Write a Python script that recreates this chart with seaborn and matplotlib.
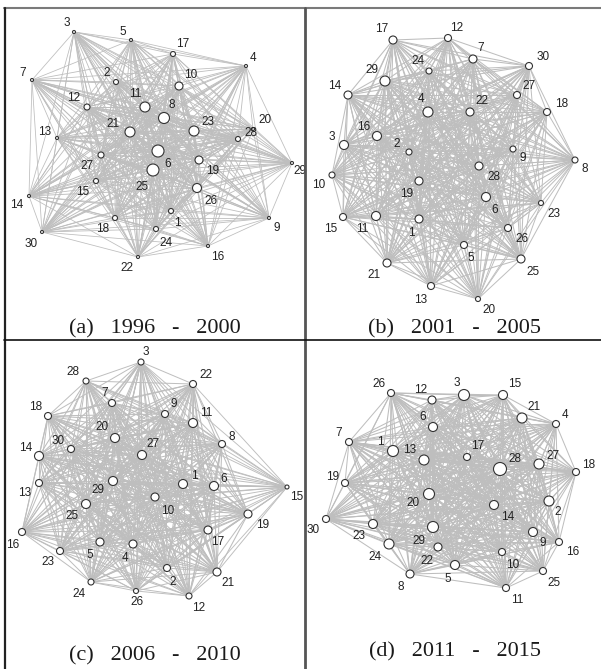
import numpy as np
import pandas as pd
import matplotlib
matplotlib.use('Agg')
import matplotlib.pyplot as plt
import seaborn as sb
from matplotlib.collections import LineCollection
from itertools import combinations

sb.set_style('white')
plt.rcParams['font.family'] = ['Liberation Sans', 'DejaVu Sans']

# Network layouts (x, y in page pixels), w = node weight
# (a) 1996 - 2000
nodes_a = [3, 5, 17, 4, 7, 2, 10, 11, 12, 8, 21, 23, 20, 28, 13,
           6, 29, 27, 19, 25, 15, 26, 14, 1, 18, 9, 24, 30, 16, 22]
x_a = [74, 131, 173, 246, 32, 116, 179, 145, 87, 164, 130, 194, 253, 238, 57,
       158, 292, 101, 199, 153, 96, 197, 29, 171, 115, 269, 156, 42, 208, 138]
y_a = [32, 40, 54, 66, 80, 82, 86, 107, 107, 118, 132, 131, 129, 139, 138,
       151, 163, 155, 160, 170, 181, 188, 196, 211, 218, 218, 229, 232, 246, 257]
w_a = [1.5, 1.5, 2.5, 1.5, 1.5, 2.5, 4, 5, 3, 5.5, 5, 5, 1.5, 2.5, 1.5,
       6, 1.5, 3, 4, 6, 2.5, 4.5, 1.5, 2.5, 2.5, 1.5, 2.5, 1.5, 1.5, 1.5]
off_a = [(-7, -9), (-8, -8), (10, -10), (7, -8), (-9, -7), (-9, -9), (12, -11),
         (-10, -13), (-13, -9), (8, -13), (-17, -8), (14, -9), (12, -9), (13, -6),
         (-12, -6), (10, 13), (8, 8), (-14, 11), (14, 11), (-11, 17), (-13, 11),
         (14, 13), (-12, 9), (6, 12), (-12, 11), (8, 10), (10, 14), (-11, 12),
         (10, 11), (-11, 11)]

# (b) 2001 - 2005
nodes_b = [17, 12, 7, 30, 24, 29, 14, 27, 4, 22, 18, 16, 3, 2, 9,
           8, 28, 10, 19, 6, 23, 15, 11, 1, 26, 5, 25, 21, 13, 20]
x_b = [393, 448, 473, 529, 429, 385, 348, 517, 428, 470, 547, 377, 344, 409, 513,
       575, 479, 332, 419, 486, 541, 343, 376, 419, 508, 464, 521, 387, 431, 478]
y_b = [40, 38, 59, 66, 71, 81, 95, 95, 112, 112, 112, 136, 145, 152, 149,
       160, 166, 175, 181, 197, 203, 217, 216, 219, 228, 245, 259, 263, 286, 299]
w_b = [4, 3.5, 4, 3.5, 3, 5, 4, 3.5, 5, 4, 3.5, 4.5, 4.5, 3, 3,
       3, 4, 3, 4, 4.5, 2.5, 3.5, 4.5, 4, 3.5, 3.5, 4, 4, 3.5, 2.5]
off_b = [(-11, -11), (9, -10), (8, -11), (14, -9), (-11, -10), (-13, -11),
         (-13, -9), (12, -9), (-7, -13), (12, -11), (15, -8), (-13, -9), (-12, -8),
         (-12, -8), (10, 9), (10, 9), (15, 11), (-13, 10), (-12, 13), (9, 13),
         (13, 11), (-12, 12), (-14, 13), (-8, 14), (14, 11), (7, 13), (12, 13),
         (-13, 12), (-10, 14), (11, 11)]

# (c) 2006 - 2010
nodes_c = [3, 28, 22, 7, 9, 18, 11, 20, 8, 30, 14, 27, 29, 13, 1,
           6, 15, 10, 25, 19, 17, 16, 5, 4, 23, 2, 21, 24, 26, 12]
x_c = [141, 86, 193, 112, 165, 48, 193, 115, 222, 71, 39, 142, 113, 39, 183,
       214, 287, 155, 86, 248, 208, 22, 100, 133, 60, 167, 217, 91, 136, 189]
y_c = [362, 381, 384, 403, 414, 416, 423, 438, 444, 449, 456, 455, 481, 483, 484,
       486, 487, 497, 504, 514, 530, 532, 542, 544, 551, 568, 572, 582, 591, 596]
w_c = [3, 3, 3.5, 3.5, 3.5, 3.5, 4.5, 4.5, 3.5, 3.5, 4.5, 4.5, 4.5, 3.5, 4.5,
       4.5, 2, 4, 4.5, 4, 4, 3.5, 4, 4, 3.5, 3.5, 4, 3, 2.5, 3]
off_c = [(5, -10), (-13, -9), (13, -9), (-7, -10), (9, -10), (-12, -9), (13, -10),
         (-13, -11), (10, -7), (-13, -8), (-13, -8), (11, -11), (-15, 9), (-14, 10),
         (11, -8), (10, -7), (10, 10), (13, 14), (-14, 12), (15, 11), (10, 12),
         (-9, 13), (-10, 13), (-8, 14), (-12, 11), (6, 14), (11, 11), (-12, 12),
         (1, 11), (10, 12)]

# (d) 2011 - 2015
nodes_d = [26, 12, 3, 15, 21, 4, 6, 7, 1, 13, 17, 28, 27, 18, 19,
           20, 2, 14, 30, 23, 29, 9, 16, 24, 22, 10, 5, 25, 8, 11]
x_d = [391, 432, 464, 503, 522, 556, 433, 349, 393, 424, 467, 500, 539, 576, 345,
       429, 549, 494, 326, 373, 433, 533, 559, 389, 438, 502, 455, 543, 410, 506]
y_d = [393, 400, 395, 395, 418, 424, 427, 442, 451, 460, 457, 469, 464, 472, 483,
       494, 501, 505, 519, 524, 527, 532, 542, 544, 547, 552, 565, 571, 574, 588]
w_d = [3.5, 4, 5.5, 4.5, 5, 3.5, 4.5, 3.5, 5.5, 5, 3.5, 6.5, 5, 3.5, 3.5,
       5.5, 5, 4.5, 3.5, 4.5, 5.5, 4.5, 3.5, 5, 4, 3.5, 4.5, 3.5, 4, 3.5]
off_d = [(-12, -9), (-11, -10), (-7, -12), (12, -11), (12, -11), (9, -9), (-10, -10),
         (-10, -9), (-13, -9), (-14, -10), (11, -11), (15, -10), (14, -8), (13, -7),
         (-12, -6), (-16, 9), (9, 11), (14, 12), (-13, 11), (-14, 12), (-14, 14),
         (10, 11), (14, 10), (-14, 13), (-11, 14), (11, 13), (-7, 14), (11, 12),
         (-9, 13), (11, 12)]

titles = ['(a)   1996   -   2000', '(b)   2001   -   2005',
          '(c)   2006   -   2010', '(d)   2011   -   2015']
title_pos = [(155, 333), (455, 333), (155, 660), (455, 656)]

panels = [(nodes_a, x_a, y_a, w_a, off_a), (nodes_b, x_b, y_b, w_b, off_b),
          (nodes_c, x_c, y_c, w_c, off_c), (nodes_d, x_d, y_d, w_d, off_d)]

fig = plt.figure(figsize=(6.01, 6.69), dpi=100)
ax = fig.add_axes([0, 0, 1, 1])

for (nodes, xs, ys, ws, offs), title, (tx, ty) in zip(panels, titles, title_pos):
    df = pd.DataFrame({'node': nodes, 'x': xs, 'y': ys, 'w': ws})

    # every pair of nodes is linked
    segs, lws = [], []
    for i, j in combinations(range(len(df)), 2):
        segs.append([(xs[i], ys[i]), (xs[j], ys[j])])
        lws.append(0.45 + 0.08 * np.sqrt(ws[i] * ws[j]))
    ax.add_collection(LineCollection(segs, colors='#bebebe', linewidths=lws, zorder=1))

    sb.scatterplot(data=df, x='x', y='y', s=(1.44 * df['w'].to_numpy()) ** 2,
                   color='white', edgecolor='#333333', linewidth=0.8,
                   zorder=3, legend=False, ax=ax)

    for n, x, y, (dx, dy) in zip(nodes, xs, ys, offs):
        ax.text(x + dx, y + dy, str(n), ha='center', va='center',
                fontsize=8.5, color='#222222', zorder=4)

    ax.text(tx, ty, title, ha='center', va='baseline', fontsize=16,
            family=['Liberation Serif', 'DejaVu Serif'], color='#1a1a1a')

# table borders
ax.plot([4, 601], [8, 8], color='#7a7a7a', lw=1.5, zorder=5)
ax.plot([4.5, 4.5], [8, 669], color='#222222', lw=1.6, zorder=5)
ax.plot([305, 305], [8, 669], color='#555555', lw=2, zorder=5)
ax.plot([4, 601], [340, 340], color='#111111', lw=1.2, zorder=5)

ax.set_xlim(0, 601)
ax.set_ylim(669, 0)
ax.axis('off')

fig.savefig('out.png', dpi=100)
